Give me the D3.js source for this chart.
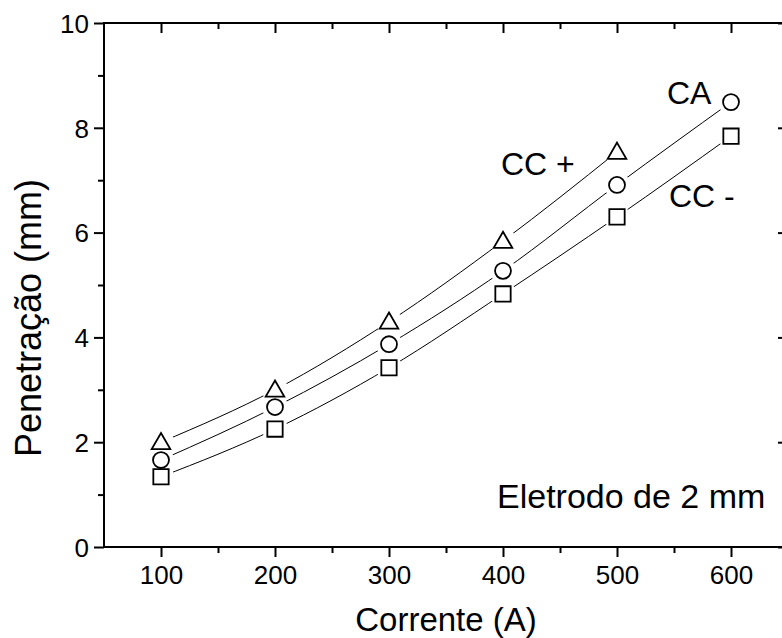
<!DOCTYPE html>
<html>
<head>
<meta charset="utf-8">
<script src="https://cdn.jsdelivr.net/npm/d3@7"></script>
<style>
  html, body { margin: 0; padding: 0; background: #fff; }
  svg { display: block; }
  svg text { font-family: "Liberation Sans", Arial, Helvetica, sans-serif; }
</style>
</head>
<body>
<svg id="chart" width="782" height="638"></svg>
<script>
// Welding current (A) vs penetration (mm), 2 mm electrode
const corrente = [100, 200, 300, 400, 500, 600];
const ccMais   = [2.00, 3.00, 4.30, 5.84, 7.54];        // CC +  (triangles)
const ca       = [1.66, 2.67, 3.87, 5.27, 6.91, 8.49];  // CA    (circles)
const ccMenos  = [1.34, 2.25, 3.42, 4.83, 6.30, 7.84];  // CC -  (squares)

const xTicks = [100, 200, 300, 400, 500, 600];
const xMinor = [150, 250, 350, 450, 550];
const yTicks = [0, 2, 4, 6, 8, 10];
const yMinor = [1, 3, 5, 7, 9];

const FONT = "'Liberation Sans', Arial, Helvetica, sans-serif";
const svg = d3.select("#chart");
const m = { left: 104, top: 23, right: 788, bottom: 547 };

const x = d3.scaleLinear().domain([50, 650]).range([m.left, m.right]);
const y = d3.scaleLinear().domain([0, 10]).range([m.bottom, m.top]);

const series = [
  { name: "ccMais",  vals: ccMais,  sym: d3.symbolTriangle, size: 150 },
  { name: "ca",      vals: ca,      sym: d3.symbolCircle,   size: 200 },
  { name: "ccMenos", vals: ccMenos, sym: d3.symbolSquare,   size: 235 }
];

const defs = svg.append("defs");
const line = d3.line().x(d => x(d[0])).y(d => y(d[1])).curve(d3.curveMonotoneX);

// Each curve breaks around its own markers
series.forEach(s => {
  const pts = s.vals.map((v, i) => [corrente[i], v]);
  const mask = defs.append("mask").attr("id", "gap-" + s.name)
    .attr("maskUnits", "userSpaceOnUse")
    .attr("x", 0).attr("y", 0).attr("width", 782).attr("height", 638);
  mask.append("rect").attr("width", 782).attr("height", 638).attr("fill", "#fff");
  mask.selectAll("circle").data(pts).join("circle")
    .attr("cx", d => x(d[0])).attr("cy", d => y(d[1])).attr("r", 13).attr("fill", "#000");
  svg.append("path").datum(pts)
    .attr("d", line)
    .attr("fill", "none").attr("stroke", "#000").attr("stroke-width", 1)
    .attr("mask", "url(#gap-" + s.name + ")");
  svg.append("g").selectAll("path").data(pts).join("path")
    .attr("transform", d => `translate(${x(d[0])},${y(d[1]) + (s.sym === d3.symbolTriangle ? 1.5 : 0)})`)
    .attr("d", d3.symbol().type(s.sym).size(s.size))
    .attr("fill", "none").attr("stroke", "#000").attr("stroke-width", 1.8);
});

// Axes: outward ticks left/bottom, inward ticks top/right
function styleAxis(g) {
  g.attr("font-family", FONT);
  g.select(".domain").remove();
  g.selectAll(".tick line").attr("stroke", "#000").attr("stroke-width", 2);
  g.selectAll("text").attr("fill", "#000").attr("font-size", 26).attr("font-family", FONT);
}

svg.append("g").attr("transform", `translate(0,${m.bottom})`)
  .call(d3.axisBottom(x).tickValues(xTicks).tickSize(10).tickPadding(9).tickFormat(d3.format("d")))
  .call(styleAxis);
svg.append("g").attr("transform", `translate(0,${m.bottom})`)
  .call(d3.axisBottom(x).tickValues(xMinor).tickSize(6).tickFormat(""))
  .call(styleAxis);
svg.append("g").attr("transform", `translate(${m.left},0)`)
  .call(d3.axisLeft(y).tickValues(yTicks).tickSize(10).tickPadding(5).tickFormat(d3.format("d")))
  .call(styleAxis)
  .selectAll("text").attr("dy", "0.36em");
svg.append("g").attr("transform", `translate(${m.left},0)`)
  .call(d3.axisLeft(y).tickValues(yMinor).tickSize(6).tickFormat(""))
  .call(styleAxis);
svg.append("g").attr("transform", `translate(0,${m.top})`)
  .call(d3.axisTop(x).tickValues(xTicks).tickSize(-10).tickFormat(""))
  .call(styleAxis);
svg.append("g").attr("transform", `translate(0,${m.top})`)
  .call(d3.axisTop(x).tickValues(xMinor).tickSize(-6).tickFormat(""))
  .call(styleAxis);
svg.append("g").attr("transform", `translate(${m.right},0)`)
  .call(d3.axisRight(y).tickValues(yTicks).tickSize(-10).tickFormat(""))
  .call(styleAxis);
svg.append("g").attr("transform", `translate(${m.right},0)`)
  .call(d3.axisRight(y).tickValues(yMinor).tickSize(-6).tickFormat(""))
  .call(styleAxis);

// Frame
svg.append("rect")
  .attr("x", m.left).attr("y", m.top)
  .attr("width", m.right - m.left).attr("height", m.bottom - m.top)
  .attr("fill", "none").attr("stroke", "#000").attr("stroke-width", 2);

// Axis titles
svg.append("text").attr("x", (m.left + m.right) / 2).attr("y", 631)
  .attr("text-anchor", "middle").attr("font-size", 33).attr("font-family", FONT)
  .text("Corrente (A)");
svg.append("text").attr("transform", "translate(41,318) rotate(-90)")
  .attr("text-anchor", "middle").attr("font-size", 36).attr("font-family", FONT)
  .text("Penetração (mm)");

// Series labels and note
const note = (tx, ty, t, fs) => svg.append("text").attr("x", tx).attr("y", ty)
  .attr("font-size", fs).attr("font-family", FONT).attr("fill", "#000").text(t);
note(667, 104, "CA", 32);
note(501, 175, "CC +", 32);
note(669, 207, "CC -", 32);
note(497, 508, "Eletrodo de 2 mm", 34);
</script>
</body>
</html>
